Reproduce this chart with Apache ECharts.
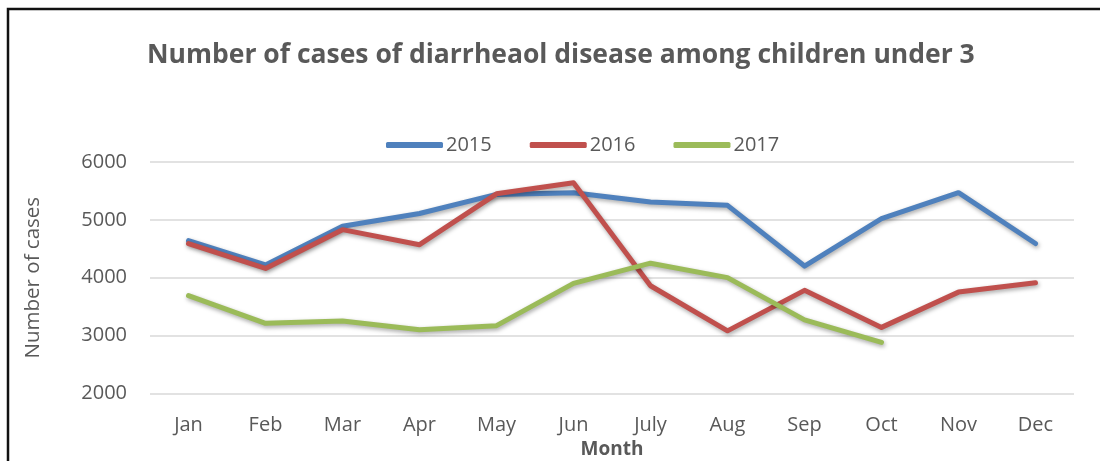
<!DOCTYPE html>
<html>
<head>
<meta charset="utf-8">
<script src="https://cdn.jsdelivr.net/npm/echarts@6/dist/echarts.min.js"></script>
<style>
html,body{margin:0;padding:0;background:#fff;}
#c{width:1100px;height:461px;}
</style>
</head>
<body>
<div id="c"></div>
<script>
const months = ['Jan','Feb','Mar','Apr','May','Jun','July','Aug','Sep','Oct','Nov','Dec'];
const s2015 = [4640, 4220, 4890, 5110, 5440, 5470, 5310, 5250, 4200, 5020, 5470, 4590];
const s2016 = [4590, 4160, 4830, 4570, 5450, 5640, 3860, 3080, 3780, 3140, 3750, 3910];
const s2017 = [3690, 3210, 3250, 3100, 3170, 3900, 4250, 4000, 3270, 2880];
const yTicks = [2000, 3000, 4000, 5000, 6000];

const chart = echarts.init(document.getElementById('c'));
const font = 'Open Sans';
const grey = '#595959';
function lineSeries(name, data, color) {
  return {
    name: name, type: 'line', data: data, symbol: 'none', smooth: false,
    lineStyle: { width: 5, color: color, cap: 'round', join: 'round',
      shadowColor: 'rgba(0,0,0,0.35)', shadowBlur: 4, shadowOffsetX: 1, shadowOffsetY: 2 },
    itemStyle: { color: color },
    emphasis: { disabled: true }
  };
}
chart.setOption({
  animation: false,
  backgroundColor: '#fff',
  title: {
    text: 'Number of cases of diarrheaol disease among children under 3',
    left: 142, top: 37,
    textStyle: { fontFamily: font, fontWeight: 'bold', fontSize: 26.5, color: grey }
  },
  legend: {
    left: 381, top: 130,
    icon: 'roundRect', itemWidth: 57, itemHeight: 6, itemGap: 38,
    textStyle: { fontFamily: font, fontSize: 20, color: grey, padding: [0,0,0,-2] },
    data: ['2015','2016','2017']
  },
  grid: { left: 150, right: 26, top: 162, bottom: 67.7, containLabel: false, outerBoundsMode: 'none' },
  xAxis: {
    type: 'category', data: months, boundaryGap: true,
    axisLine: { show: false }, axisTick: { show: false },
    axisLabel: { fontFamily: font, fontSize: 20, color: grey, margin: 22 },
    name: 'Month', nameLocation: 'middle', nameGap: 44,
    nameTextStyle: { fontFamily: font, fontSize: 19, fontWeight: 'bold', color: grey }
  },
  yAxis: {
    type: 'value', min: yTicks[0], max: yTicks[yTicks.length-1], interval: 1000,
    axisLine: { show: false }, axisTick: { show: false },
    axisLabel: { fontFamily: font, fontSize: 20, color: grey, margin: 23, formatter: v => String(v) },
    splitLine: { lineStyle: { color: '#d9d9d9', width: 1.5 } },
    name: 'Number of cases', nameLocation: 'middle', nameGap: 106, nameRotate: 90,
    nameTextStyle: { fontFamily: font, fontSize: 20.5, color: grey }
  },
  graphic: [{
    type: 'polyline', silent: true,
    shape: { points: [[8, 470], [8, 9], [1110, 9]] },
    style: { stroke: '#111', lineWidth: 2.5, fill: null }
  }],
  series: [
    lineSeries('2015', s2015, '#4F81BD'),
    lineSeries('2016', s2016, '#C0504D'),
    lineSeries('2017', s2017, '#9BBB59')
  ]
});
</script>
</body>
</html>
